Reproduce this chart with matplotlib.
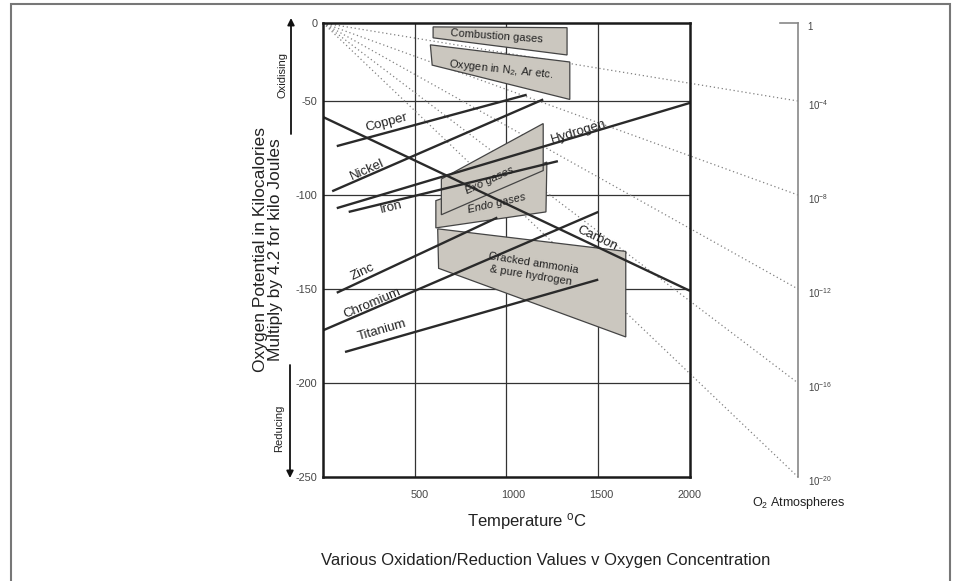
import numpy as np
import matplotlib
matplotlib.use("Agg")
import matplotlib.pyplot as plt
import matplotlib.transforms as mtransforms
from matplotlib.patches import Polygon, Rectangle

plt.rcParams['font.family'] = ['Liberation Sans', 'DejaVu Sans']
plt.rcParams['mathtext.fontset'] = 'custom'
plt.rcParams['mathtext.rm'] = 'Liberation Sans'
plt.rcParams['mathtext.it'] = 'Liberation Sans:italic'
plt.rcParams['mathtext.bf'] = 'Liberation Sans:bold'

# ---------------- data ----------------
x_ticks = [500, 1000, 1500, 2000]
x_tick_labels = ['500', '1000', '1500', '2000']
grid_x = [500, 1000, 1500]
y_ticks = [0, -50, -100, -150, -200, -250]
y_tick_labels = ['0', '-50', '-100', '-150', '-200', '-250']
grid_y = [-50, -100, -150, -200]
o2_labels = ['1', r'$10^{-4}$', r'$10^{-8}$', r'$10^{-12}$', r'$10^{-16}$', r'$10^{-20}$']
o2_line_g = [-50, -100, -150, -200, -250]

line_names = ['Copper', 'Nickel', 'Hydrogen', 'Iron', 'Carbon', 'Zinc', 'Chromium', 'Titanium']
line_t_start = [75, 50, 75, 140, 0, 75, 0, 120]
line_t_end = [1110, 1200, 2000, 1280, 2000, 950, 1500, 1500]
line_g_start = [-74, -98, -107, -109, -58.5, -152, -172, -183.5]
line_g_end = [-46, -49, -51, -82, -151, -112, -109, -145]
label_t = [349, 240, 1395, 371, 1493, 218, 267, 322]
label_g = [-61.7, -86.7, -66.5, -106.4, -122.9, -141, -157.5, -171.8]
label_rot = [15, 24, 17, 14, -25, 25, 23, 16]

region_names = ['Combustion gases', r'Oxygen in N$_2$, Ar etc.', 'Endo gases', 'Exo gases',
                'Cracked ammonia\n& pure hydrogen']
region_t = [[600, 1330, 1330, 600],
            [585, 1345, 1345, 595],
            [615, 1220, 1215, 615],
            [645, 1200, 1200, 645],
            [625, 1650, 1650, 630]]
region_g = [[-2.5, -3, -20.5, -9.5],
            [-14, -25, -49, -27],
            [-103, -82.5, -109, -117.5],
            [-91.5, -62, -87, -110.5],
            [-118, -130, -175.5, -139]]
region_label_t = [948, 970, 948, 910, 1139]
region_label_g = [-8.5, -30, -104.3, -92, -139.5]
region_label_rot = [-4, -6, 13, 25, -9]
region_label_style = ['normal', 'normal', 'italic', 'italic', 'normal']

# ---------------- layout ----------------
W, H = 962, 581
fig = plt.figure(figsize=(W / 100, H / 100), dpi=100)
ax_l, ax_r, ax_t, ax_b = 323, 690, 23, 477
ax = fig.add_axes([ax_l / W, (H - ax_b) / H, (ax_r - ax_l) / W, (ax_b - ax_t) / H])

K = 78 / 94.0


def fwd(y):
    y = np.asarray(y, dtype=float)
    return np.where(y > -50, -50 + (y + 50) * K, y)


def inv(u):
    u = np.asarray(u, dtype=float)
    return np.where(u > -50, -50 + (u + 50) / K, u)


ax.set_yscale('function', functions=(fwd, inv))
ax.set_xlim(0, 2000)
ax.set_ylim(-250, 0)

for s in ax.spines.values():
    s.set_linewidth(1.8)
    s.set_color('#1a1a1a')
    s.set_zorder(10)

ax.set_xticks(x_ticks)
ax.set_xticklabels(x_tick_labels)
ax.set_yticks(y_ticks)
ax.set_yticklabels(y_tick_labels)
ax.tick_params(length=0, labelsize=7.8, labelcolor='#444444')
ax.tick_params(axis='x', pad=9)
ax.tick_params(axis='y', pad=4)
ax.minorticks_off()
# small horizontal offsets of the x tick labels, as in the original drawing
for lab, dx in zip(ax.get_xticklabels(), [5, 7, 3, 0]):
    lab.set_transform(lab.get_transform() + mtransforms.ScaledTranslation(dx / 100, 0, fig.dpi_scale_trans))

for gx in grid_x:
    ax.axvline(gx, color='#333333', lw=0.9, zorder=1)
for gy in grid_y:
    ax.axhline(gy, color='#333333', lw=0.9, zorder=1)

# O2 axis position
o2_px = 798
t_right = 2000 * (o2_px - ax_l) / (ax_r - ax_l)
for g in o2_line_g:
    ax.plot([0, t_right], [0, g], color='#808080', lw=0.9, ls=(0, (1, 2.2)),
            clip_on=False, zorder=2)

for tt, gg, name, st in zip(region_t, region_g, region_names, region_label_style):
    poly = Polygon(np.column_stack([tt, gg]), closed=True, facecolor='#cbc7bf',
                   edgecolor='#444444', lw=0.9, zorder=3)
    ax.add_patch(poly)

for i, name in enumerate(region_names):
    ax.text(region_label_t[i], region_label_g[i], name, fontsize=8, rotation=region_label_rot[i],
            rotation_mode='anchor', ha='center', va='center', style=region_label_style[i],
            color='#222222', zorder=6, linespacing=1.3)

for i, name in enumerate(line_names):
    ax.plot([line_t_start[i], line_t_end[i]], [line_g_start[i], line_g_end[i]],
            color='#2a2a2a', lw=1.7, solid_capstyle='butt', zorder=5)
    ax.text(label_t[i], label_g[i], name, fontsize=9.5, rotation=label_rot[i],
            rotation_mode='anchor', ha='center', va='center', color='#222222', zorder=6)

# right O2 axis
ax2 = fig.add_axes([780 / W, (H - ax_b) / H, (o2_px - 780) / W, (ax_b - ax_t) / H])
ax2.set_yscale('function', functions=(fwd, inv))
ax2.set_ylim(-250, 0)
ax2.set_xlim(0, 1)
ax2.patch.set_alpha(0)
for side in ['left', 'top', 'bottom']:
    ax2.spines[side].set_visible(False)
ax2.spines['right'].set_color('#888888')
ax2.spines['right'].set_linewidth(1.2)
ax2.set_xticks([])
ax2.yaxis.tick_right()
ax2.set_yticks(y_ticks)
ax2.set_yticklabels(o2_labels)
ax2.minorticks_off()
ax2.tick_params(length=0, labelsize=7, labelcolor='#444444', pad=7)
for lab in ax2.get_yticklabels():
    lab.set_transform(lab.get_transform() + mtransforms.ScaledTranslation(0, -3 / 100, fig.dpi_scale_trans))
ax2.axhline(0, color='#888888', lw=1.2, clip_on=False)

# texts
fig.text(799 / W, 1 - 503 / H, r'O$_2$ Atmospheres', fontsize=9, ha='center', va='center',
         color='#222222')
fig.text(527 / W, 1 - 522 / H, r'Temperature $^{\rm o}$C', fontsize=12, ha='center', va='center',
         color='#222222')
fig.text(546 / W, 1 - 561 / H, 'Various Oxidation/Reduction Values v Oxygen Concentration',
         fontsize=12, ha='center', va='center', color='#222222')
fig.text(268 / W, 1 - 250 / H, 'Oxygen Potential in Kilocalories\nMultiply by 4.2 for kilo Joules',
         fontsize=12.5, rotation=90, ha='center', va='center', multialignment='center',
         color='#222222', linespacing=1.05)

# oxidising / reducing arrows
ax.annotate('', xy=((291 - ax_l) / (ax_r - ax_l), (ax_b - 18) / (ax_b - ax_t)),
            xytext=((291 - ax_l) / (ax_r - ax_l), (ax_b - 134) / (ax_b - ax_t)),
            xycoords='axes fraction', textcoords='axes fraction', annotation_clip=False,
            arrowprops=dict(arrowstyle='-|>', color='#111111', lw=1.3, mutation_scale=10,
                            shrinkA=0, shrinkB=0))
ax.annotate('', xy=((290 - ax_l) / (ax_r - ax_l), (ax_b - 478) / (ax_b - ax_t)),
            xytext=((290 - ax_l) / (ax_r - ax_l), (ax_b - 365) / (ax_b - ax_t)),
            xycoords='axes fraction', textcoords='axes fraction', annotation_clip=False,
            arrowprops=dict(arrowstyle='-|>', color='#111111', lw=1.3, mutation_scale=10,
                            shrinkA=0, shrinkB=0))
fig.text(282 / W, 1 - 75 / H, 'Oxidising', fontsize=8, rotation=90, ha='center', va='center',
         color='#222222')
fig.text(279 / W, 1 - 428 / H, 'Reducing', fontsize=8, rotation=90, ha='center', va='center',
         color='#222222')

# outer frame
fig.patches.append(Rectangle((11 / W, -0.05), (950 - 11) / W, 1.05 - 4 / H, transform=fig.transFigure,
                             fill=False, edgecolor='#777777', lw=1.5))

fig.savefig('out.png', dpi=100)
